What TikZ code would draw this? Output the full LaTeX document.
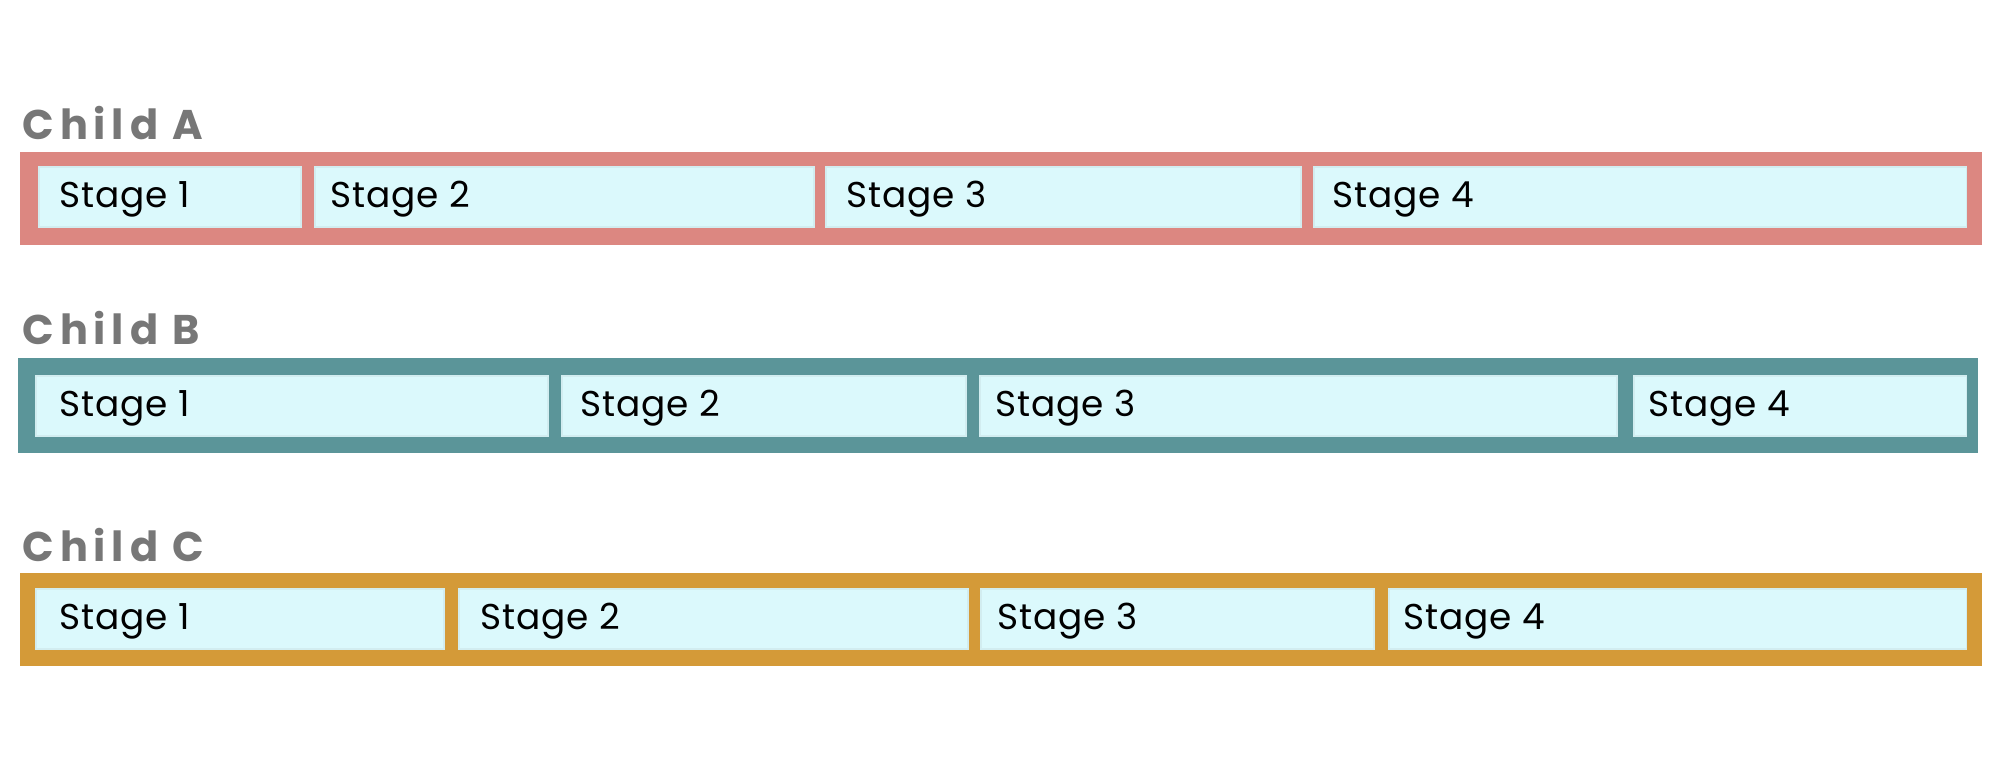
\documentclass[tikz,border=0pt]{standalone}
\usepackage{fontspec}
\setmainfont{Poppins}
\newfontfamily\stagefont[LetterSpace=2.5]{Poppins}
\newfontfamily\childfont[LetterSpace=14]{Poppins}

\definecolor{childA}{HTML}{DC8781}
\definecolor{childB}{HTML}{5B9599}
\definecolor{childC}{HTML}{D49A38}
\definecolor{stagefill}{HTML}{DBF9FC}
\definecolor{labelgray}{HTML}{777777}

\begin{document}
\begin{tikzpicture}[x=0.01cm, y=-0.01cm,
    stagebox/.style={fill=stagefill, draw=stagefill!90!gray, line width=0.3pt},
    stagetext/.style={anchor=base west, inner sep=0pt, font=\stagefont\fontsize{10.2}{12}\selectfont},
    childlabel/.style={anchor=base west, inner sep=0pt, text=labelgray, font=\childfont\bfseries\fontsize{11.8}{14}\selectfont}]
    \useasboundingbox (0,0) rectangle (2000,768);

    % Child A
    \node[childlabel] (labelA) at (22,140) {Child A};
    \fill[childA] (20,152) rectangle (1982,245);
    \foreach \n/\lft/\rgt/\txt in {1/39/301/59, 2/315/814/330, 3/826/1301/846, 4/1314/1966/1332}{
        \draw[stagebox] (\lft,167) rectangle (\rgt,227);
        \node[stagetext] (a\n) at (\txt,208) {Stage \n};
    }

    % Child B
    \node[childlabel] (labelB) at (22,345) {Child B};
    \fill[childB] (18,358) rectangle (1978,453);
    \foreach \n/\lft/\rgt/\txt in {1/36/548/59, 2/562/966/580, 3/980/1617/995, 4/1634/1966/1648}{
        \draw[stagebox] (\lft,376) rectangle (\rgt,436);
        \node[stagetext] (b\n) at (\txt,417) {Stage \n};
    }

    % Child C
    \node[childlabel] (labelC) at (22,562) {Child C};
    \fill[childC] (20,573) rectangle (1982,666);
    \foreach \n/\lft/\rgt/\txt in {1/36/444/59, 2/459/968/480, 3/981/1374/997, 4/1389/1966/1403}{
        \draw[stagebox] (\lft,589) rectangle (\rgt,649);
        \node[stagetext] (c\n) at (\txt,630) {Stage \n};
    }
\end{tikzpicture}
\end{document}
